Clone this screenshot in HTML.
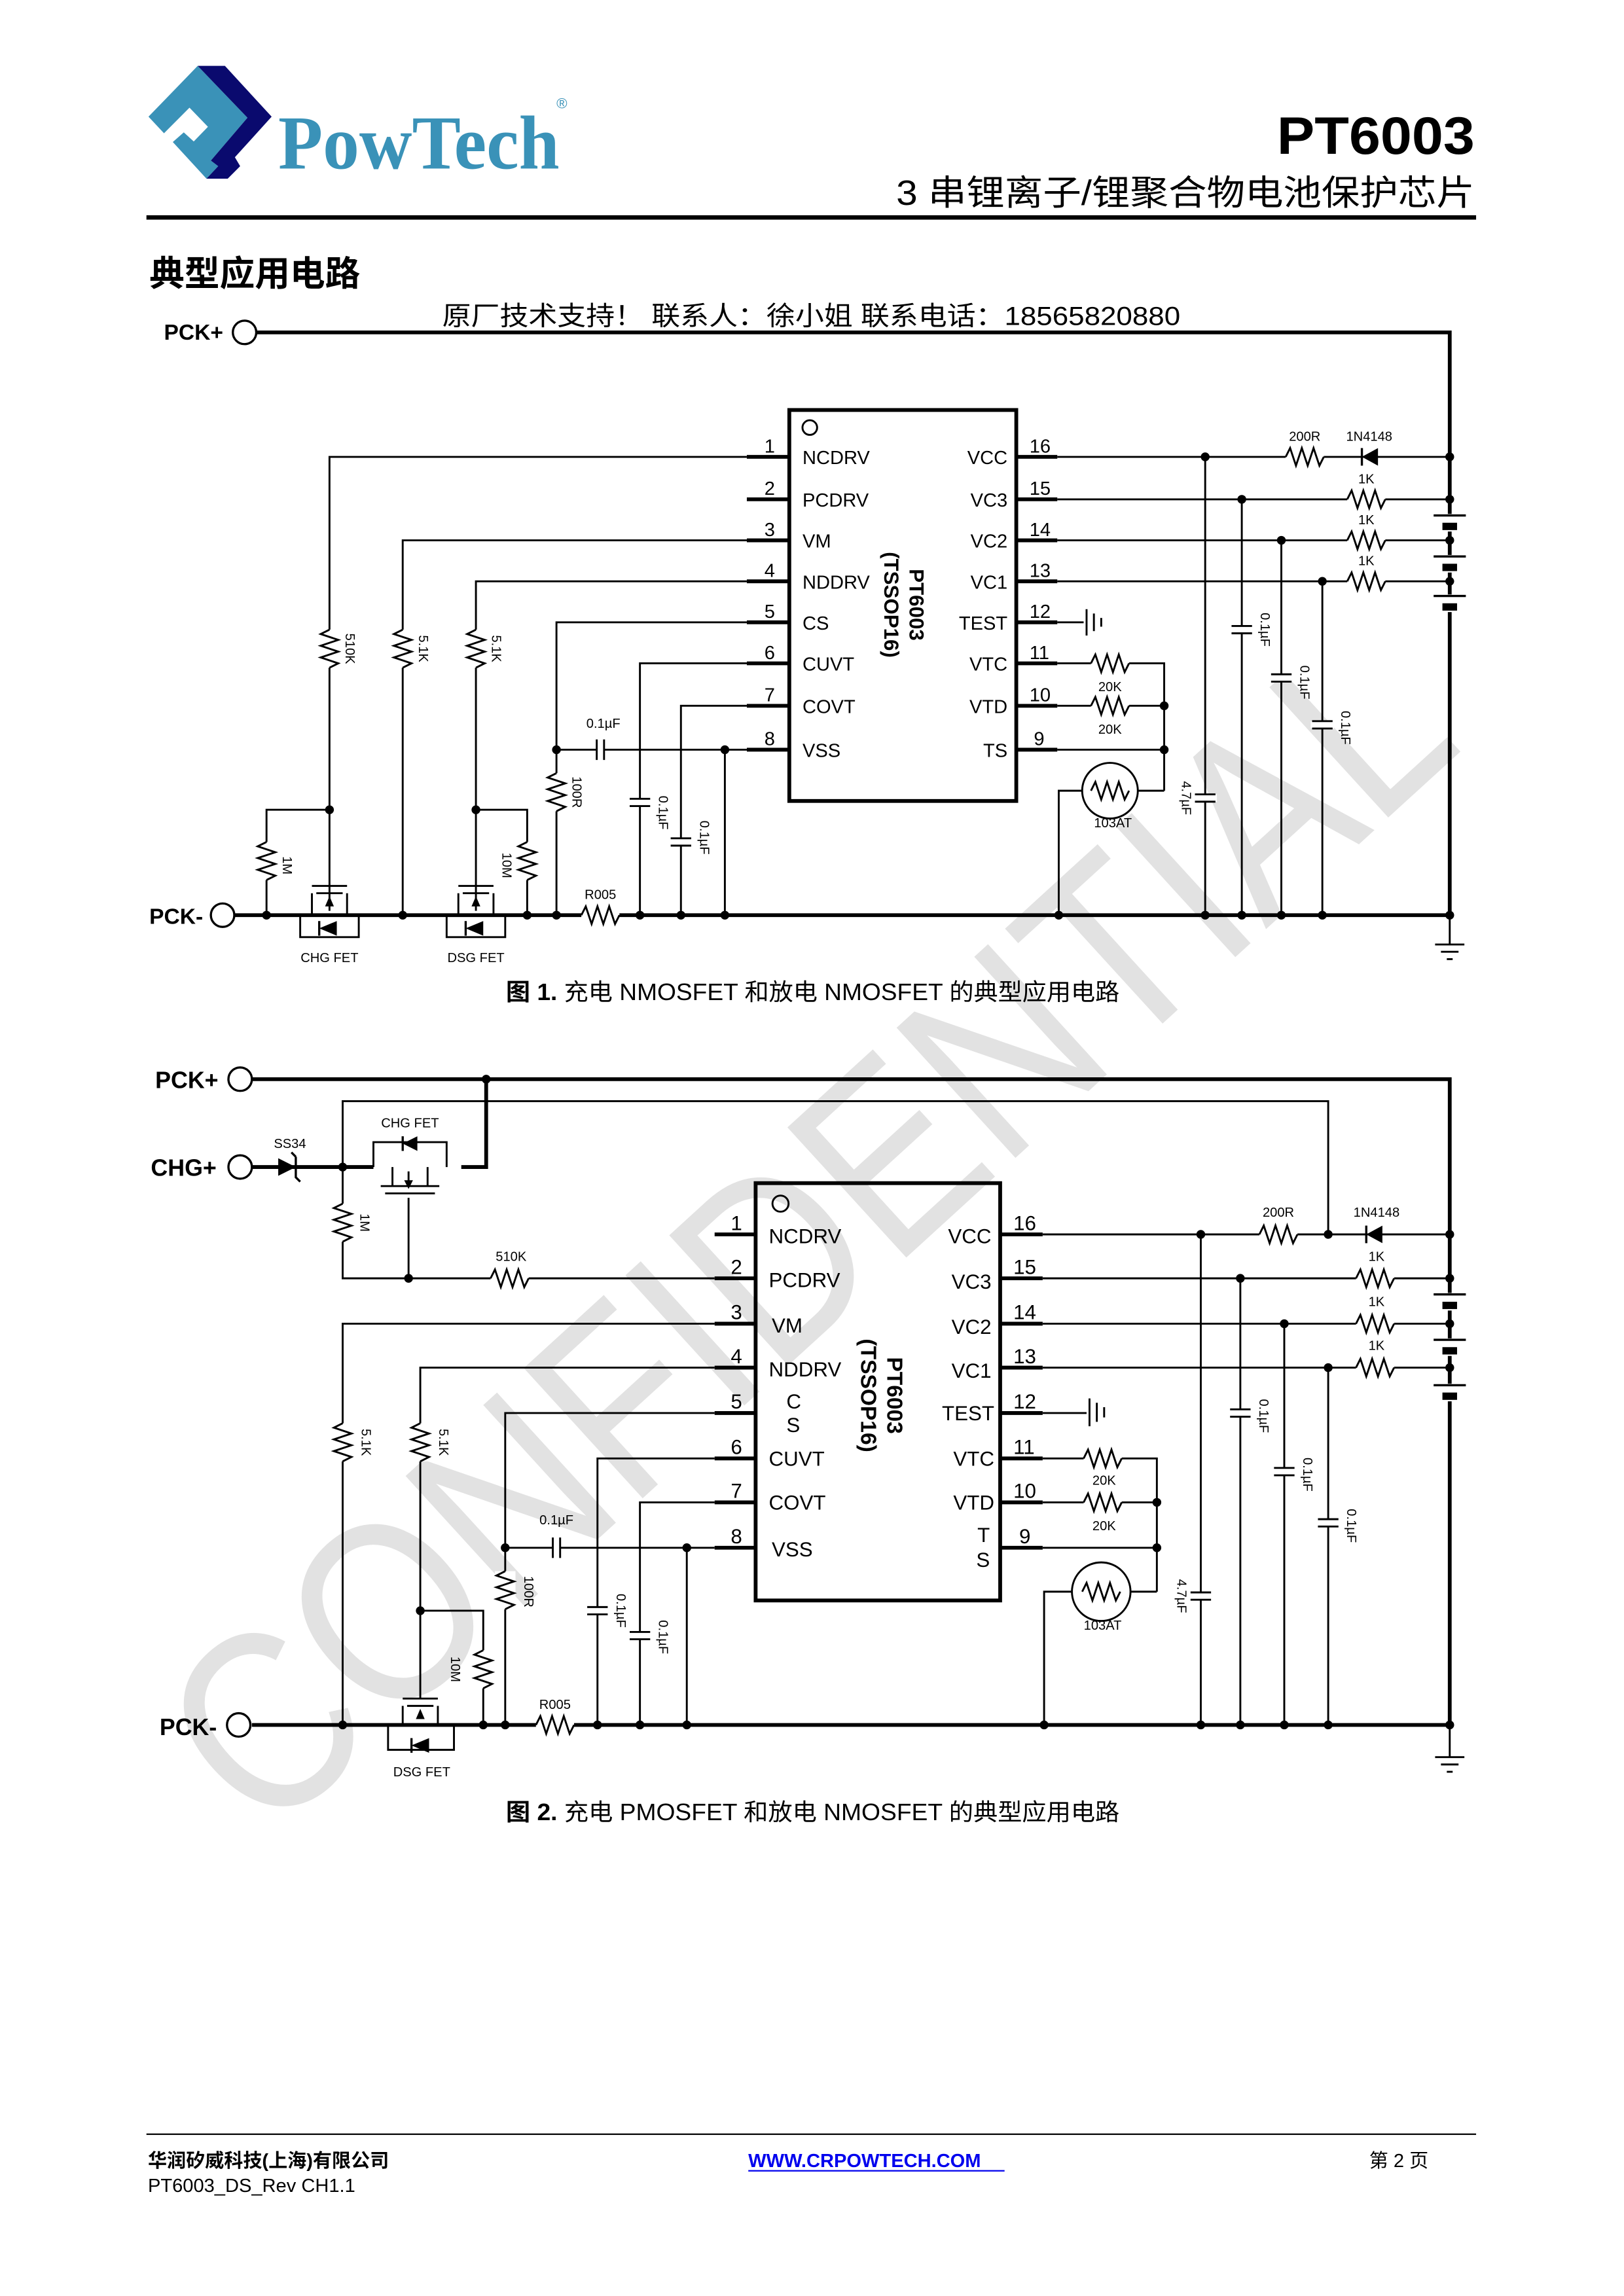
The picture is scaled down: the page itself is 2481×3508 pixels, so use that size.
<!DOCTYPE html>
<html><head><meta charset="utf-8"><style>
html,body{margin:0;padding:0;background:#fff}
svg{display:block}
text{font-family:"Liberation Sans","Noto Sans CJK SC",sans-serif}
</style></head><body>
<svg width="2481" height="3508" viewBox="0 0 1109 1568" preserveAspectRatio="none" xmlns="http://www.w3.org/2000/svg">
<defs>
<g id="rh"><rect x="0" y="-7" width="26" height="14" fill="#fff"/><path d="M0 0 l3 -6 l4 12 l4 -12 l4 12 l4 -12 l4 12 l3 -6" fill="none" stroke="#000" stroke-width="1.3"/></g>
<g id="rv"><rect x="-7" y="0" width="14" height="26" fill="#fff"/><path d="M0 0 l-6 3 l12 4 l-12 4 l12 4 l-12 4 l12 4 l-6 3" fill="none" stroke="#000" stroke-width="1.3"/></g>
<g id="cv"><rect x="-8" y="-2.5" width="16" height="5" fill="#fff"/><path d="M-7 -2.5 h14 M-7 2.5 h14" stroke="#000" stroke-width="1.3"/></g>
<g id="ch"><rect x="-2.5" y="-8" width="5" height="16" fill="#fff"/><path d="M-2.5 -7 v14 M2.5 -7 v14" stroke="#000" stroke-width="1.3"/></g>
<g id="bat"><rect x="-11" y="-4" width="22" height="12" fill="#fff"/><path d="M-11 -3 h22" stroke="#000" stroke-width="1.5"/><rect x="-5" y="2" width="10" height="5" fill="#000"/></g>
<g id="dot"><circle r="3" fill="#000"/></g>
</defs>

<!-- watermark -->
<text x="0" y="0" transform="translate(560,850) rotate(-42.4)" text-anchor="middle" font-size="175" textLength="1110" lengthAdjust="spacingAndGlyphs" fill="#e2e2e2" dominant-baseline="middle">CONFIDENTIAL</text>

<!-- header -->
<polygon points="101.4,79.7 135,45 169,80.4 144,109.7 149,113.5 141,122 118,97 125.5,90.4 132.3,96.6 142,86.6 129.4,73.5 112,91" fill="#3a92b8"/>
<polygon points="135,45 153.6,45 185.5,79.7 160.4,107.4 164,113.5 155.5,122 141,122 149,113.5 144,109.7 169,80.4" fill="#0a0a6e"/>
<text x="190" y="115" style="font-family:'Liberation Serif',serif" font-weight="bold" font-size="52" fill="#3a92b8" textLength="192" lengthAdjust="spacingAndGlyphs">PowTech</text>
<text x="380" y="74" font-size="10" fill="#3a92b8">®</text>
<text x="1007" y="105" text-anchor="end" font-weight="bold" font-size="36" textLength="135" lengthAdjust="spacingAndGlyphs">PT6003</text>
<text x="1007" y="140" text-anchor="end" font-size="24" textLength="395" lengthAdjust="spacingAndGlyphs">3 串锂离子/锂聚合物电池保护芯片</text>
<rect x="100" y="147" width="908" height="3" fill="#000"/>
<text x="102" y="195" font-weight="bold" font-size="24">典型应用电路</text>
<text x="302" y="222" font-size="18" textLength="504" lengthAdjust="spacingAndGlyphs">原厂技术支持！  联系人：徐小姐    联系电话：18565820880</text>

<!-- ===== CIRCUIT 1 ===== -->
<g fill="none" stroke="#000" stroke-width="1.3">
<path d="M175 227 H990 V625" stroke-width="2.6"/>
<path d="M160 625 H990" stroke-width="2.6"/>
<rect x="539" y="280" width="155" height="267" stroke-width="2.6"/>
<circle cx="553" cy="292" r="5"/>
<path d="M510 312 H539 M510 341 H539 M510 369 H539 M510 397 H539 M510 425 H539 M510 453 H539 M510 482 H539 M510 512 H539" stroke-width="2.6"/>
<path d="M694 312 H722 M694 341 H722 M694 369 H722 M694 397 H722 M694 425 H722 M694 453 H722 M694 482 H722 M694 512 H722" stroke-width="2.6"/>
<path d="M510 312 H225 V610"/>
<path d="M510 369 H275 V625"/>
<path d="M510 397 H325 V610"/>
<path d="M510 425 H380 V625"/>
<path d="M510 453 H437 V625"/>
<path d="M510 482 H465 V625"/>
<path d="M380 512 H510 M495 512 V625"/>
<path d="M225 553 H182 V625 M325 553 H360 V625"/>
<path d="M213 605 H237 M216 610 H234 M213 610 V625 M237 610 V625 M225 610 V622 M205 625 V640 H245 V625"/>
<path d="M313 605 H337 M316 610 H334 M313 610 V625 M337 610 V625 M325 610 V622 M305 625 V640 H345 V625"/>
<path d="M722 312 H990 M722 341 H990 M722 369 H990 M722 397 H990"/>
<path d="M823 312 V625 M848 341 V625 M875 369 V625 M903 397 V625"/>
<path d="M722 425 H740 M742 416 V434 M747 419 V431 M752 422 V428"/>
<path d="M722 453 H795 V540 M722 482 H795 M722 512 H795"/>
<path d="M723 625 V540 H795"/>
<circle cx="758" cy="540" r="19" fill="#fff"/>
<path d="M990 625 V645 M980 645 H1000 M984 650 H996 M988 655 H992"/>
</g>
<polygon points="218,634 230,629 230,639" fill="#000"/><path d="M218 629 V639" stroke="#000" stroke-width="1.5"/>
<polygon points="318,634 330,629 330,639" fill="#000"/><path d="M318 629 V639" stroke="#000" stroke-width="1.5"/>
<polygon points="225,612 222,619 228,619" fill="#000"/><polygon points="325,612 322,619 328,619" fill="#000"/>
<use href="#rv" x="225" y="430"/><use href="#rv" x="275" y="430"/><use href="#rv" x="325" y="430"/>
<use href="#rv" x="380" y="528"/><use href="#rv" x="182" y="575"/><use href="#rv" x="360" y="575"/>
<use href="#rh" x="397" y="625"/>
<use href="#cv" x="437" y="548"/><use href="#cv" x="465" y="575"/><use href="#ch" x="410" y="512"/>
<use href="#rh" x="878" y="312"/><use href="#rh" x="920" y="341"/><use href="#rh" x="920" y="369"/><use href="#rh" x="920" y="397"/>
<polygon points="930,312 941,306 941,318" fill="#000"/><path d="M930 306 V318" stroke="#000" stroke-width="1.5"/>
<use href="#bat" x="990" y="355"/><use href="#bat" x="990" y="383"/><use href="#bat" x="990" y="410"/>
<use href="#cv" x="848" y="430"/><use href="#cv" x="875" y="463"/><use href="#cv" x="903" y="495"/><use href="#cv" x="823" y="545"/>
<use href="#rh" x="745" y="453"/><use href="#rh" x="745" y="482"/><use href="#rh" x="745" y="540"/>
<g>
<use href="#dot" x="225" y="553"/><use href="#dot" x="325" y="553"/><use href="#dot" x="380" y="512"/><use href="#dot" x="495" y="512"/>
<use href="#dot" x="182" y="625"/><use href="#dot" x="275" y="625"/><use href="#dot" x="360" y="625"/><use href="#dot" x="380" y="625"/>
<use href="#dot" x="437" y="625"/><use href="#dot" x="465" y="625"/><use href="#dot" x="495" y="625"/><use href="#dot" x="723" y="625"/>
<use href="#dot" x="823" y="625"/><use href="#dot" x="848" y="625"/><use href="#dot" x="875" y="625"/><use href="#dot" x="903" y="625"/><use href="#dot" x="990" y="625"/>
<use href="#dot" x="823" y="312"/><use href="#dot" x="848" y="341"/><use href="#dot" x="875" y="369"/><use href="#dot" x="903" y="397"/>
<use href="#dot" x="990" y="312"/><use href="#dot" x="990" y="341"/><use href="#dot" x="990" y="369"/><use href="#dot" x="990" y="397"/>
<use href="#dot" x="795" y="482"/><use href="#dot" x="795" y="512"/>
</g>
<circle cx="167" cy="227" r="8" fill="#fff" stroke="#000" stroke-width="1.5"/>
<circle cx="152" cy="625" r="8" fill="#fff" stroke="#000" stroke-width="1.5"/>
<g font-size="13">
<text x="112" y="232" font-weight="bold" font-size="15">PCK+</text>
<text x="102" y="631" font-weight="bold" font-size="15">PCK-</text>
<text x="522" y="309">1</text><text x="522" y="338">2</text><text x="522" y="366">3</text><text x="522" y="394">4</text>
<text x="522" y="422">5</text><text x="522" y="450">6</text><text x="522" y="479">7</text><text x="522" y="509">8</text>
<text x="703" y="309">16</text><text x="703" y="338">15</text><text x="703" y="366">14</text><text x="703" y="394">13</text>
<text x="703" y="422">12</text><text x="703" y="450">11</text><text x="703" y="479">10</text><text x="706" y="509">9</text>
<text x="548" y="317">NCDRV</text><text x="548" y="346">PCDRV</text><text x="548" y="374">VM</text><text x="548" y="402">NDDRV</text>
<text x="548" y="430">CS</text><text x="548" y="458">CUVT</text><text x="548" y="487">COVT</text><text x="548" y="517">VSS</text>
<g text-anchor="end"><text x="688" y="317">VCC</text><text x="688" y="346">VC3</text><text x="688" y="374">VC2</text><text x="688" y="402">VC1</text>
<text x="688" y="430">TEST</text><text x="688" y="458">VTC</text><text x="688" y="487">VTD</text><text x="688" y="517">TS</text></g>
</g>
<text transform="translate(621,413) rotate(90)" text-anchor="middle" font-weight="bold" font-size="14">PT6003</text>
<text transform="translate(604,413) rotate(90)" text-anchor="middle" font-weight="bold" font-size="14">(TSSOP16)</text>
<g font-size="9">
<text transform="translate(236,443) rotate(90)" text-anchor="middle">510K</text>
<text transform="translate(286,443) rotate(90)" text-anchor="middle">5.1K</text>
<text transform="translate(336,443) rotate(90)" text-anchor="middle">5.1K</text>
<text transform="translate(391,541) rotate(90)" text-anchor="middle">100R</text>
<text transform="translate(193,591) rotate(90)" text-anchor="middle">1M</text>
<text transform="translate(343,591) rotate(90)" text-anchor="middle">10M</text>
<text transform="translate(450,555) rotate(90)" text-anchor="middle">0.1µF</text>
<text transform="translate(478,572) rotate(90)" text-anchor="middle">0.1µF</text>
<text transform="translate(861,430) rotate(90)" text-anchor="middle">0.1µF</text>
<text transform="translate(888,466) rotate(90)" text-anchor="middle">0.1µF</text>
<text transform="translate(916,497) rotate(90)" text-anchor="middle">0.1µF</text>
<text transform="translate(807,545) rotate(90)" text-anchor="middle">4.7µF</text>
<text x="412" y="497" text-anchor="middle">0.1µF</text>
<text x="410" y="614" text-anchor="middle">R005</text>
<text x="225" y="657" text-anchor="middle">CHG FET</text>
<text x="325" y="657" text-anchor="middle">DSG FET</text>
<text x="891" y="301" text-anchor="middle">200R</text><text x="935" y="301" text-anchor="middle">1N4148</text>
<text x="933" y="330" text-anchor="middle">1K</text><text x="933" y="358" text-anchor="middle">1K</text><text x="933" y="386" text-anchor="middle">1K</text>
<text x="758" y="472" text-anchor="middle">20K</text><text x="758" y="501" text-anchor="middle">20K</text>
<text x="760" y="565" text-anchor="middle">103AT</text>
</g>
<text x="555" y="683" text-anchor="middle" font-size="16" textLength="419" lengthAdjust="spacingAndGlyphs"><tspan font-weight="bold">图 1.</tspan> 充电 NMOSFET 和放电 NMOSFET 的典型应用电路</text>

<!-- ===== CIRCUIT 2 ===== -->
<g fill="none" stroke="#000" stroke-width="1.3">
<path d="M172 737 H990 V1178" stroke-width="2.6"/>
<path d="M172 1178 H990" stroke-width="2.6"/>
<path d="M172 797 H255 M315 797 H332 V737" stroke-width="2.6"/>
<path d="M234 797 V752 H907 V843"/>
<rect x="516" y="808" width="167" height="285" stroke-width="2.6"/>
<circle cx="533" cy="822" r="5.5"/>
<path d="M488 843 H516 M488 873 H516 M488 904 H516 M488 934 H516 M488 965 H516 M488 996 H516 M488 1026 H516 M488 1057 H516" stroke-width="2.6"/>
<path d="M683 843 H712 M683 873 H712 M683 904 H712 M683 934 H712 M683 965 H712 M683 996 H712 M683 1026 H712 M683 1057 H712" stroke-width="2.6"/>
<path d="M234 797 V873 H488 M279 818 V873"/>
<path d="M255 797 V780 H305 V797 M260 810 H300 M263 815 H297 M268 797 V810 M292 797 V810 M279 800 V810"/>
<path d="M488 904 H234 V1178"/>
<path d="M488 934 H287 V1160 M287 1100 H330 V1178"/>
<path d="M488 965 H345 V1178"/>
<path d="M488 996 H408 V1178"/>
<path d="M488 1026 H437 V1178"/>
<path d="M345 1057 H488 M469 1057 V1178"/>
<path d="M275 1160 H299 M278 1165 H296 M275 1165 V1178 M299 1165 V1178 M265 1178 V1195 H310 V1178"/>
<path d="M712 843 H990 M712 873 H990 M712 904 H990 M712 934 H990"/>
<path d="M820 843 V1178 M847 873 V1178 M877 904 V1178 M907 934 V1178"/>
<path d="M712 965 H742 M744 955 V974 M749 958 V971 M754 961 V968"/>
<path d="M712 996 H790 V1087 M712 1026 H790 M712 1057 H790"/>
<path d="M713 1178 V1087 H790"/>
<circle cx="752" cy="1087" r="20" fill="#fff"/>
<path d="M990 1178 V1200 M980 1200 H1000 M984 1205 H996 M988 1210 H992"/>
</g>
<polygon points="190,797 202,791 202,803" fill="#000" transform="rotate(180 196 797)"/>
<path d="M202 790 V804 l3 3 M202 790 l-3 -3" stroke="#000" stroke-width="1.5" fill="none"/>
<polygon points="275,781 285,776 285,786" fill="#000"/><path d="M275 776 V786" stroke="#000" stroke-width="1.5"/>
<polygon points="279,812 276,806 282,806" fill="#000"/>
<polygon points="281,1192 293,1187 293,1197" fill="#000"/><path d="M281 1187 V1197" stroke="#000" stroke-width="1.5"/>
<polygon points="287,1167 284,1174 290,1174" fill="#000"/>
<use href="#rv" x="234" y="822"/><use href="#rh" x="335" y="873"/>
<use href="#rv" x="234" y="972"/><use href="#rv" x="287" y="972"/><use href="#rv" x="345" y="1073"/><use href="#rv" x="330" y="1127"/>
<use href="#rh" x="366" y="1178"/>
<use href="#cv" x="408" y="1100"/><use href="#cv" x="437" y="1117"/><use href="#ch" x="380" y="1057"/>
<use href="#rh" x="860" y="843"/><use href="#rh" x="926" y="873"/><use href="#rh" x="926" y="904"/><use href="#rh" x="926" y="934"/>
<polygon points="933,843 944,837 944,849" fill="#000"/><path d="M933 837 V849" stroke="#000" stroke-width="1.5"/>
<use href="#bat" x="990" y="887"/><use href="#bat" x="990" y="918"/><use href="#bat" x="990" y="949"/>
<use href="#cv" x="847" y="965"/><use href="#cv" x="877" y="1005"/><use href="#cv" x="907" y="1040"/><use href="#cv" x="820" y="1090"/>
<use href="#rh" x="740" y="996"/><use href="#rh" x="740" y="1026"/><use href="#rh" x="739" y="1087"/>
<g>
<use href="#dot" x="332" y="737"/><use href="#dot" x="234" y="797"/><use href="#dot" x="279" y="873"/>
<use href="#dot" x="287" y="1100"/><use href="#dot" x="345" y="1057"/><use href="#dot" x="469" y="1057"/>
<use href="#dot" x="234" y="1178"/><use href="#dot" x="330" y="1178"/><use href="#dot" x="345" y="1178"/><use href="#dot" x="408" y="1178"/>
<use href="#dot" x="437" y="1178"/><use href="#dot" x="469" y="1178"/><use href="#dot" x="713" y="1178"/><use href="#dot" x="820" y="1178"/>
<use href="#dot" x="847" y="1178"/><use href="#dot" x="877" y="1178"/><use href="#dot" x="907" y="1178"/><use href="#dot" x="990" y="1178"/>
<use href="#dot" x="820" y="843"/><use href="#dot" x="907" y="843"/><use href="#dot" x="847" y="873"/><use href="#dot" x="877" y="904"/><use href="#dot" x="907" y="934"/>
<use href="#dot" x="990" y="843"/><use href="#dot" x="990" y="873"/><use href="#dot" x="990" y="904"/><use href="#dot" x="990" y="934"/>
<use href="#dot" x="790" y="1026"/><use href="#dot" x="790" y="1057"/>
</g>
<circle cx="164" cy="737" r="8" fill="#fff" stroke="#000" stroke-width="1.5"/>
<circle cx="164" cy="797" r="8" fill="#fff" stroke="#000" stroke-width="1.5"/>
<circle cx="163" cy="1178" r="8" fill="#fff" stroke="#000" stroke-width="1.5"/>
<g font-size="14">
<text x="106" y="743" font-weight="bold" font-size="16">PCK+</text>
<text x="103" y="803" font-weight="bold" font-size="16">CHG+</text>
<text x="109" y="1185" font-weight="bold" font-size="16">PCK-</text>
<text x="499" y="840">1</text><text x="499" y="870">2</text><text x="499" y="901">3</text><text x="499" y="931">4</text>
<text x="499" y="962">5</text><text x="499" y="993">6</text><text x="499" y="1023">7</text><text x="499" y="1054">8</text>
<text x="692" y="840">16</text><text x="692" y="870">15</text><text x="692" y="901">14</text><text x="692" y="931">13</text>
<text x="692" y="962">12</text><text x="692" y="993">11</text><text x="692" y="1023">10</text><text x="696" y="1054">9</text>
<text x="525" y="849">NCDRV</text><text x="525" y="879">PCDRV</text><text x="527" y="910">VM</text><text x="525" y="940">NDDRV</text>
<text x="537" y="962">C</text><text x="537" y="978">S</text><text x="525" y="1001">CUVT</text><text x="525" y="1031">COVT</text><text x="527" y="1063">VSS</text>
<g text-anchor="end"><text x="677" y="849">VCC</text><text x="677" y="880">VC3</text><text x="677" y="911">VC2</text><text x="677" y="941">VC1</text>
<text x="679" y="970">TEST</text><text x="679" y="1001">VTC</text><text x="679" y="1031">VTD</text><text x="676" y="1053">T</text><text x="676" y="1070">S</text></g>
</g>
<text transform="translate(606,953) rotate(90)" text-anchor="middle" font-weight="bold" font-size="15">PT6003</text>
<text transform="translate(588,953) rotate(90)" text-anchor="middle" font-weight="bold" font-size="15">(TSSOP16)</text>
<g font-size="9">
<text transform="translate(246,835) rotate(90)" text-anchor="middle">1M</text>
<text transform="translate(247,985) rotate(90)" text-anchor="middle">5.1K</text>
<text transform="translate(300,985) rotate(90)" text-anchor="middle">5.1K</text>
<text transform="translate(358,1087) rotate(90)" text-anchor="middle">100R</text>
<text transform="translate(308,1140) rotate(90)" text-anchor="middle">10M</text>
<text transform="translate(421,1100) rotate(90)" text-anchor="middle">0.1µF</text>
<text transform="translate(450,1118) rotate(90)" text-anchor="middle">0.1µF</text>
<text transform="translate(860,967) rotate(90)" text-anchor="middle">0.1µF</text>
<text transform="translate(890,1007) rotate(90)" text-anchor="middle">0.1µF</text>
<text transform="translate(920,1042) rotate(90)" text-anchor="middle">0.1µF</text>
<text transform="translate(804,1090) rotate(90)" text-anchor="middle">4.7µF</text>
<text x="380" y="1041" text-anchor="middle">0.1µF</text>
<text x="349" y="861" text-anchor="middle">510K</text>
<text x="198" y="784" text-anchor="middle">SS34</text>
<text x="280" y="770" text-anchor="middle">CHG FET</text>
<text x="379" y="1167" text-anchor="middle">R005</text>
<text x="288" y="1213" text-anchor="middle">DSG FET</text>
<text x="873" y="831" text-anchor="middle">200R</text><text x="940" y="831" text-anchor="middle">1N4148</text>
<text x="940" y="861" text-anchor="middle">1K</text><text x="940" y="892" text-anchor="middle">1K</text><text x="940" y="922" text-anchor="middle">1K</text>
<text x="754" y="1014" text-anchor="middle">20K</text><text x="754" y="1045" text-anchor="middle">20K</text>
<text x="753" y="1113" text-anchor="middle">103AT</text>
</g>
<text x="555" y="1243" text-anchor="middle" font-size="16" textLength="419" lengthAdjust="spacingAndGlyphs"><tspan font-weight="bold">图 2.</tspan> 充电 PMOSFET 和放电 NMOSFET 的典型应用电路</text>

<!-- footer -->
<rect x="100" y="1457" width="908" height="1" fill="#000"/>
<text x="101" y="1480" font-weight="bold" font-size="13">华润矽威科技(上海)有限公司</text>
<text x="101" y="1497" font-size="13">PT6003_DS_Rev CH1.1</text>
<text x="511" y="1480" font-weight="bold" font-size="13" fill="#0000ee">WWW.CRPOWTECH.COM</text>
<rect x="511" y="1482" width="175" height="1" fill="#0000ee"/>
<text x="935" y="1480" font-size="13">第 2 页</text>
</svg>
</body></html>
